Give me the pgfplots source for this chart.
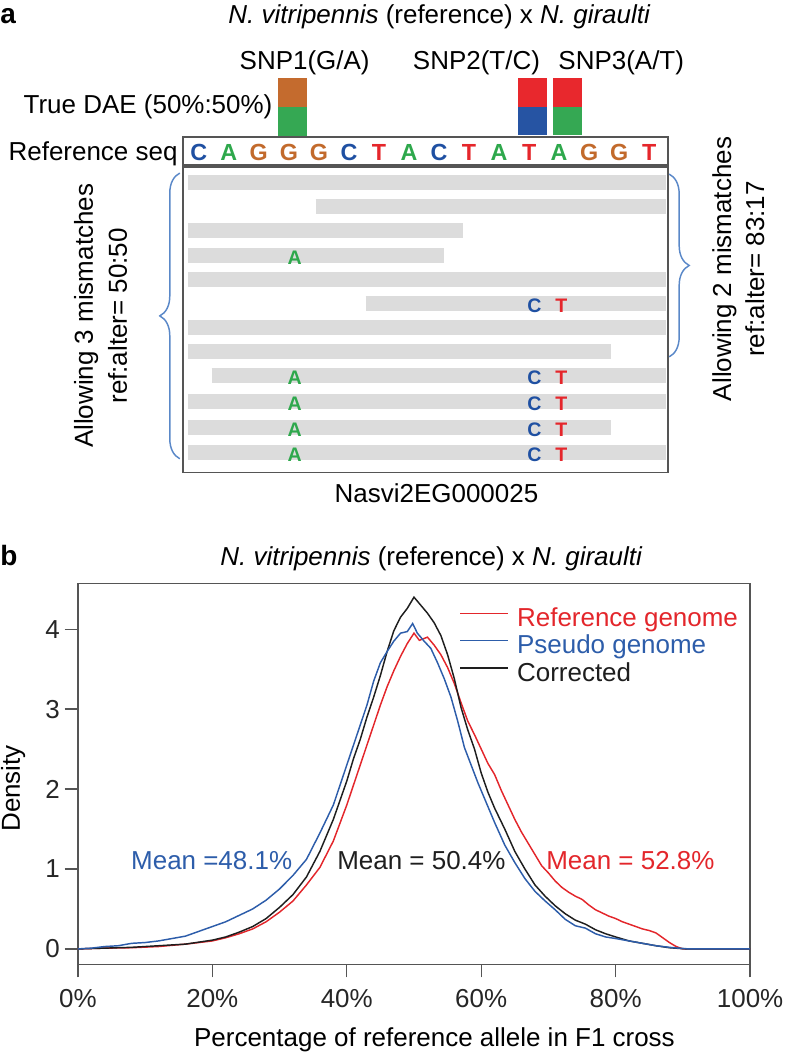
\documentclass[border=0pt]{standalone}
\usepackage{fontspec}
\setmainfont{Liberation Sans}
\usepackage{pgfplots}
\pgfplotsset{compat=1.18}
\usetikzlibrary{decorations.pathreplacing}

\definecolor{nA}{HTML}{2EA84C}
\definecolor{nC}{HTML}{1F50A2}
\definecolor{nG}{HTML}{C26A2C}
\definecolor{nT}{HTML}{E5262B}
\definecolor{bxBrown}{HTML}{C46B2E}
\definecolor{bxGreen}{HTML}{35A853}
\definecolor{bxRed}{HTML}{E8282D}
\definecolor{bxBlue}{HTML}{2654A3}
\definecolor{readgray}{HTML}{DCDCDC}
\definecolor{framegray}{HTML}{555555}
\definecolor{bracecol}{HTML}{5A88C8}
\definecolor{cRed}{HTML}{E3262B}
\definecolor{cBlue}{HTML}{2D5DAA}
\definecolor{cBlack}{HTML}{1E1E1E}

\newcommand{\fs}{\fontsize{19.5}{23}\selectfont}
\newcommand{\fl}{\fontsize{17.5}{20}\selectfont\bfseries}
\newcommand{\fm}{\fontsize{14.7}{17}\selectfont\bfseries}

\pgfplotsset{
  seqlet/.style={draw=none, mark=none, forget plot, nodes near coords, point meta=explicit symbolic,
    every node near coord/.append style={anchor=center, inner sep=0pt, font=\fl, text=#1}},
  mislet/.style={draw=none, mark=none, forget plot, nodes near coords, point meta=explicit symbolic,
    every node near coord/.append style={anchor=center, inner sep=0pt, font=\fm, text=#1}},
  read/.style={readgray, line width=11.25pt, forget plot},
}

\pgfplotstableread{
x d
0 0
2 0.01
4 0.03
6 0.04
8 0.07
10 0.08
12 0.10
14 0.13
16 0.16
18 0.22
20 0.28
22 0.34
24 0.42
26 0.50
28 0.61
30 0.75
32 0.92
34 1.12
36 1.45
38 1.80
40 2.30
41 2.55
42 2.80
43 3.05
44 3.35
45 3.58
46 3.72
47 3.85
48 3.95
49 3.97
49.8 4.07
50.5 3.95
51.5 3.85
52.5 3.76
53.5 3.58
54.5 3.38
55.5 3.15
56.5 2.85
57.5 2.52
58.5 2.30
59.5 2.08
60.5 1.88
62 1.58
63.5 1.30
65 1.08
66.5 0.88
68 0.72
69.5 0.60
71 0.49
72.5 0.37
74 0.29
75.5 0.26
77 0.19
78.5 0.15
80 0.13
82 0.10
84 0.07
86 0.04
88 0.02
90 0.005
91 0
100 0
}\pseudo

\pgfplotstableread{
x d
0 0
4 0.01
8 0.02
12 0.04
16 0.06
20 0.11
22 0.15
24 0.21
26 0.28
28 0.38
30 0.52
32 0.68
34 0.90
36 1.22
38 1.62
40 2.10
41 2.38
42 2.62
43 2.90
44 3.15
45 3.42
46 3.72
47 3.98
48 4.15
49 4.26
50 4.40
51 4.30
52 4.20
53 4.08
54 3.92
55 3.68
56 3.38
57 3.02
58 2.74
59 2.50
60 2.20
61 1.96
62 1.76
63.5 1.50
65 1.22
66.5 1.00
68 0.80
69.5 0.66
71 0.54
72.5 0.44
74 0.36
75.5 0.31
77 0.24
78.5 0.19
80 0.15
82 0.10
84 0.07
86 0.04
88 0.015
90 0.003
91 0
100 0
}\corrected

\pgfplotstableread{
x d
0 0
4 0.01
8 0.015
12 0.03
16 0.06
20 0.10
22 0.14
24 0.19
26 0.25
28 0.34
30 0.46
32 0.60
34 0.80
36 1.02
38 1.35
40 1.80
41 2.05
42 2.30
43 2.55
44 2.80
45 3.05
46 3.28
47 3.48
48 3.66
49 3.82
50 3.95
50.8 3.86
52 3.90
53 3.80
54 3.68
55 3.52
56 3.32
57 3.08
58 2.85
59 2.68
60 2.50
61 2.32
62 2.18
63 1.98
64 1.80
65 1.62
66 1.46
67 1.32
68 1.18
69 1.04
70 0.95
71 0.85
72 0.77
73 0.71
74 0.66
75 0.62
76 0.55
77 0.49
78 0.45
79 0.41
80 0.38
81 0.34
82 0.31
83 0.28
84 0.25
85 0.23
86 0.20
87 0.14
88 0.08
89 0.03
90 0
100 0
}\refgenome

\begin{document}
\begin{tikzpicture}
\begin{scope}[x=0.75pt,y=-0.75pt]
\path (0,0) rectangle (787,1054);
\coordinate (aNW) at (0,0);
\coordinate (bSW) at (78,964);
\end{scope}

% ---------------- Panel a ----------------
\begin{axis}[at={(aNW)}, anchor=north west, width=590.25pt, height=375pt, scale only axis,
  xmin=0, xmax=787, ymin=0, ymax=500, y dir=reverse, axis lines=none, clip=false]
% SNP true DAE boxes
\addplot[draw=none, fill=bxBrown, forget plot] coordinates {(278,77) (307,77) (307,106) (278,106)} -- cycle;
\addplot[draw=none, fill=bxGreen, forget plot] coordinates {(278,106) (307,106) (307,135) (278,135)} -- cycle;
\addplot[draw=none, fill=bxRed, forget plot] coordinates {(519,77) (548,77) (548,106) (519,106)} -- cycle;
\addplot[draw=none, fill=bxBlue, forget plot] coordinates {(519,106) (548,106) (548,134) (519,134)} -- cycle;
\addplot[draw=none, fill=bxRed, forget plot] coordinates {(554,77) (583,77) (583,106) (554,106)} -- cycle;
\addplot[draw=none, fill=bxGreen, forget plot] coordinates {(554,106) (583,106) (583,134) (554,134)} -- cycle;
% reads
\addplot[read] coordinates {(188,181.5) (667,181.5)};
\addplot[read] coordinates {(316,205) (667,205)};
\addplot[read] coordinates {(188,229) (464,229)};
\addplot[read] coordinates {(188,255) (445,255)};
\addplot[read] coordinates {(188,279) (667,279)};
\addplot[read] coordinates {(366,303) (667,303)};
\addplot[read] coordinates {(188,327) (667,327)};
\addplot[read] coordinates {(188,351) (612,351)};
\addplot[read] coordinates {(212,375) (667,375)};
\addplot[read] coordinates {(188,401) (667,401)};
\addplot[read] coordinates {(188,427) (612,427)};
\addplot[read] coordinates {(188,452) (667,452)};
% frames
\draw[framegray, line width=1.1pt] (axis cs:183,136) rectangle (axis cs:669,164);
\draw[framegray, line width=1.1pt] (axis cs:183,166) rectangle (axis cs:669,472);
% reference sequence letters
\addplot[seqlet=nC] coordinates {(199,151.5)[C] (349.4,151.5)[C] (439.6,151.5)[C]};
\addplot[seqlet=nA] coordinates {(229.1,151.5)[A] (409.5,151.5)[A] (499.7,151.5)[A] (559.8,151.5)[A]};
\addplot[seqlet=nG] coordinates {(259.1,151.5)[G] (289.2,151.5)[G] (319.3,151.5)[G] (589.9,151.5)[G] (620,151.5)[G]};
\addplot[seqlet=nT] coordinates {(379.4,151.5)[T] (469.6,151.5)[T] (529.8,151.5)[T] (650.1,151.5)[T]};
% mismatches in reads
\addplot[mislet=nA] coordinates {(295,257)[A] (295,377)[A] (295,403)[A] (295,429)[A] (295,454)[A]};
\addplot[mislet=nC] coordinates {(535,305)[C] (535,377)[C] (535,403)[C] (535,429)[C] (535,454)[C]};
\addplot[mislet=nT] coordinates {(562,305)[T] (562,377)[T] (562,403)[T] (562,429)[T] (562,454)[T]};
\end{axis}

% ---------------- Panel b ----------------
\begin{axis}[at={(bSW)}, anchor=south west, width=504.75pt, height=285.75pt, scale only axis,
  xmin=0, xmax=100, ymin=-0.19, ymax=4.57,
  xtick={0,20,40,60,80,100}, xticklabels={0\%,20\%,40\%,60\%,80\%,100\%},
  ytick={0,1,2,3,4}, yticklabels={0,1,2,3,4},
  tick align=outside, xtick pos=bottom, ytick pos=left, major tick length=10pt,
  axis line style={framegray, line width=0.9pt},
  every tick/.style={framegray, line width=0.9pt},
  tick label style={font=\fs, text=black!85},
  xticklabel style={yshift=-5.5pt},
  legend style={at={(rel axis cs:0.5676,0.94)}, anchor=north west, draw=none, fill=none,
    inner sep=0pt, font=\fs, row sep=0pt,
    nodes={inner sep=1pt, text height=14pt, text depth=4.5pt},
    /tikz/every odd column/.append style={column sep=5pt}},
  legend cell align=left,
  legend image code/.code={\path (0pt,0pt); \draw[#1, line width=1.1pt] (0pt,5.2pt) -- (36pt,5.2pt);},
]
\addplot[cRed, line width=1.1pt, forget plot] table[x=x,y=d] {\refgenome};
\addplot[cBlack, line width=1.1pt, forget plot] table[x=x,y=d] {\corrected};
\addplot[cBlue, line width=1.1pt, forget plot] table[x=x,y=d] {\pseudo};
\addlegendimage{cRed}
\addlegendentry{\textcolor{cRed}{Reference genome}}
\addlegendimage{cBlue}
\addlegendentry{\textcolor{cBlue}{Pseudo genome}}
\addlegendimage{cBlack}
\addlegendentry{\textcolor{cBlack}{Corrected}}
\node[anchor=base, font=\fs, text=cBlue] at (axis cs:19.9,0.99) {Mean =48.1\%};
\node[anchor=base, font=\fs, text=cBlack] at (axis cs:51.1,0.99) {Mean = 50.4\%};
\node[anchor=base, font=\fs, text=cRed] at (axis cs:82.2,0.99) {Mean = 52.8\%};
\end{axis}

% ---------------- Texts ----------------
\begin{scope}[x=0.75pt,y=-0.75pt]
\node[anchor=base west, font=\fontsize{21}{24}\selectfont\bfseries, inner sep=0pt] at (0,22) {a};
\node[anchor=base, font=\fs] at (440,22) {\textit{N. vitripennis} (reference) x \textit{N. giraulti}};
\node[anchor=base, font=\fs] at (305,68) {SNP1(G/A)};
\node[anchor=base, font=\fs] at (477,68) {SNP2(T/C)};
\node[anchor=base, font=\fs] at (622,68) {SNP3(A/T)};
\node[anchor=base east, font=\fs, inner sep=0pt] at (273,112) {True DAE (50\%:50\%)};
\node[anchor=base east, font=\fs, inner sep=0pt] at (178,159) {Reference seq};
\node[anchor=base, font=\fs] at (437,502) {Nasvi2EG000025};
% braces
\draw[bracecol, line width=1.1pt, decorate, decoration={brace, amplitude=15pt}] (180,458) -- (180,172);
\draw[bracecol, line width=1.1pt, decorate, decoration={brace, amplitude=15pt}] (670,173) -- (670,356);
\node[rotate=90, anchor=base, font=\fs, inner sep=0pt] at (93,315) {Allowing 3 mismatches};
\node[rotate=90, anchor=base, font=\fs, inner sep=0pt] at (127,315) {ref:alter= 50:50};
\node[rotate=90, anchor=base, font=\fs, inner sep=0pt] at (732,268) {Allowing 2 mismatches};
\node[rotate=90, anchor=base, font=\fs, inner sep=0pt] at (765,268) {ref:alter= 83:17};
% panel b texts
\node[anchor=base west, font=\fontsize{21}{24}\selectfont\bfseries, inner sep=0pt] at (0,565) {b};
\node[anchor=base, font=\fs] at (432,565) {\textit{N. vitripennis} (reference) x \textit{N. giraulti}};
\node[anchor=base, font=\fs, inner sep=0pt] at (435,1046) {Percentage of reference allele in F1 cross};
\node[rotate=90, anchor=base, font=\fs, inner sep=0pt] at (20,788) {Density};
\end{scope}
\end{tikzpicture}
\end{document}
